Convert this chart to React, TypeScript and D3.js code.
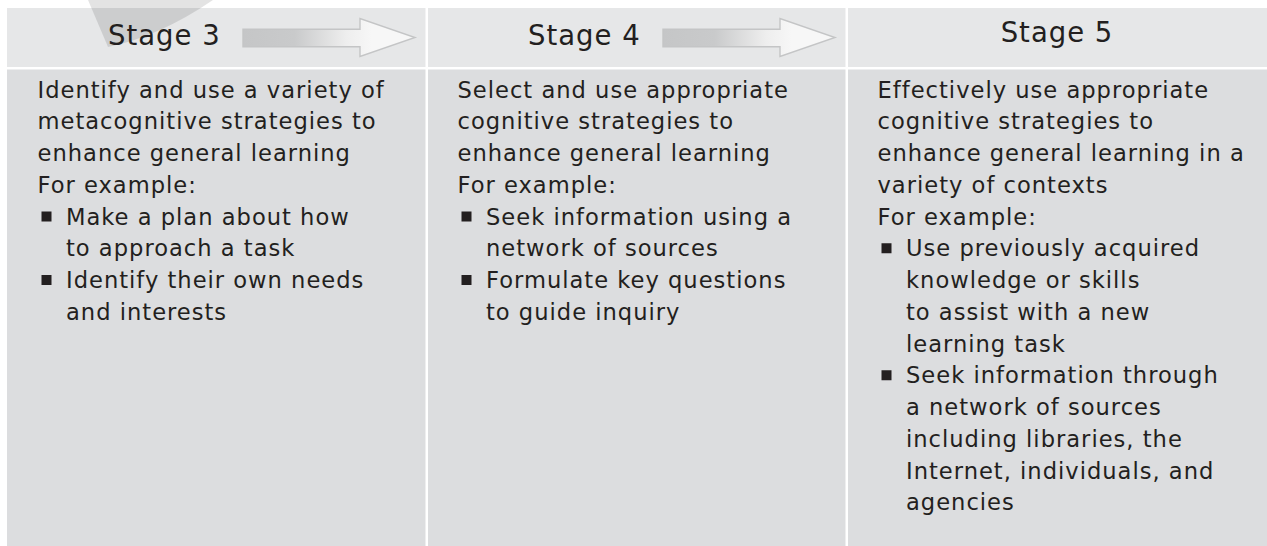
import React from "react";
import * as d3 from "d3";

// stages across the top
const stages = ["Stage 3", "Stage 4", "Stage 5"];

// intro text per stage (as broken in the source)
const intros = [
  ["Identify and use a variety of", "metacognitive strategies to", "enhance general learning"],
  ["Select and use appropriate", "cognitive strategies to", "enhance general learning"],
  ["Effectively use appropriate", "cognitive strategies to", "enhance general learning in a", "variety of contexts"],
];

const exampleLabel = "For example:";

// bullet points per stage, each bullet is a list of lines
const bullets = [
  [
    ["Make a plan about how", "to approach a task"],
    ["Identify their own needs", "and interests"],
  ],
  [
    ["Seek information using a", "network of sources"],
    ["Formulate key questions", "to guide inquiry"],
  ],
  [
    ["Use previously acquired", "knowledge or skills", "to assist with a new", "learning task"],
    ["Seek information through", "a network of sources", "including libraries, the", "Internet, individuals, and", "agencies"],
  ],
];

type Row = { text: string; indent: boolean; bullet: boolean };

function rowsFor(i: number): Row[] {
  const rows: Row[] = intros[i].map(t => ({ text: t, indent: false, bullet: false }));
  rows.push({ text: exampleLabel, indent: false, bullet: false });
  bullets[i].forEach(b =>
    b.forEach((t, j) => rows.push({ text: t, indent: true, bullet: j === 0 }))
  );
  return rows;
}

const W = 1267;
const H = 546;
const FONT = "'DejaVu Sans', Verdana, sans-serif";
const INK = "#231f20";

export default function App() {
  const x = d3.scaleBand<string>().domain(stages).range([7, W]).paddingInner(0);
  const bw = x.bandwidth();
  const line = d3.scaleLinear().domain([0, 1]).range([97.5, 129.25]);

  const headTop = 8, headBot = 67, bodyTop = 69.5;

  const arrowPath = (x0: number) => {
    const p = d3.path();
    p.moveTo(x0, 29.3);
    p.lineTo(x0 + 117, 29.3);
    p.lineTo(x0 + 117, 18.5);
    p.lineTo(x0 + 172, 37.5);
    p.lineTo(x0 + 117, 56.5);
    p.lineTo(x0 + 117, 46.7);
    p.lineTo(x0, 46.7);
    p.closePath();
    return p.toString();
  };

  const shade = d3.path();
  shade.moveTo(88, 0);
  shade.lineTo(108, 47);
  shade.quadraticCurveTo(159.5, 36.5, 213, 0);
  shade.closePath();

  return (
    <svg width={W} height={H} style={{ position: "absolute", left: 0, top: 0 }}>
      <defs>
        <linearGradient id="arrowGrad" x1="0" x2="1" y1="0" y2="0">
          <stop offset="0" stopColor="#c5c6c7" />
          <stop offset="0.3" stopColor="#c9cacb" />
          <stop offset="0.6" stopColor="#eeeeee" />
          <stop offset="0.75" stopColor="#f7f7f7" />
          <stop offset="1" stopColor="#f7f7f7" />
        </linearGradient>
      </defs>
      <rect x={0} y={0} width={W} height={H} fill="#ffffff" />
      {/* header band and body band */}
      <rect x={7} y={headTop} width={W - 7} height={headBot - headTop} fill="#e6e7e8" />
      <rect x={7} y={bodyTop} width={W - 7} height={H - bodyTop} fill="#dcdddf" />
      {/* column dividers */}
      {stages.slice(1).map(s => (
        <rect key={s} x={(x(s) as number) - 1.5} y={headTop} width={2.5} height={H - headTop} fill="#ffffff" />
      ))}
      {/* faint shape at top left */}
      <path d={shade.toString()} fill="#000000" fillOpacity={0.11} />
      {stages.map((s, i) => {
        const x0 = x(s) as number;
        const last = i === stages.length - 1;
        const rows = rowsFor(i);
        return (
          <g key={s}>
            {last ? (
              <text x={x0 + bw / 2} y={42} textAnchor="middle" fontFamily={FONT} fontSize={27.5}
                letterSpacing={1} fill={INK}>{s}</text>
            ) : (
              <>
                <text x={x0 + 101} y={45} fontFamily={FONT} fontSize={27.5} letterSpacing={1} fill={INK}>{s}</text>
                <path d={arrowPath(x0 + 236)} fill="url(#arrowGrad)" stroke="#c4c5c6" strokeWidth={1.4}
                  strokeLinejoin="miter" />
              </>
            )}
            {rows.map((r, j) => (
              <g key={j}>
                {r.bullet && (
                  <rect x={x0 + 34.5} y={line(j) - 13} width={10} height={10} fill={INK} />
                )}
                <text x={x0 + (r.indent ? 59 : 30.5)} y={line(j)} fontFamily={FONT} fontSize={22.6}
                  letterSpacing={1} fill={INK}>{r.text}</text>
              </g>
            ))}
          </g>
        );
      })}
    </svg>
  );
}
